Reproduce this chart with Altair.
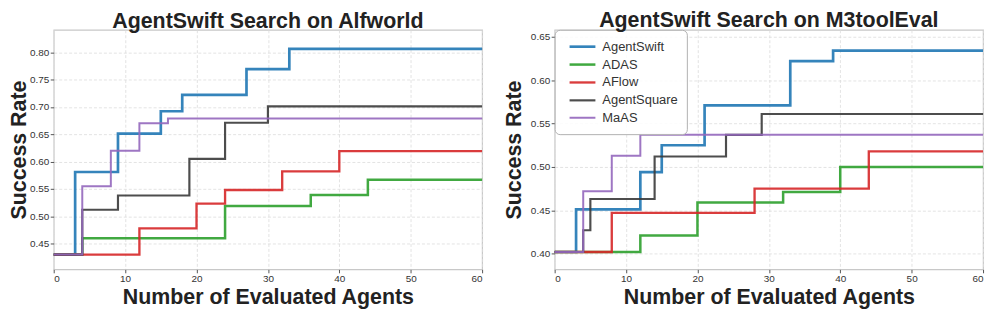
import altair as alt
import pandas as pd

methods = ["AgentSwift", "ADAS", "AFlow", "AgentSquare", "MaAS"]
colors = ["#1f77b4", "#2ca02c", "#d62728", "#3a3a3a", "#9467bd"]
widths = [2.7, 2.0, 2.0, 2.0, 2.0]

# Alfworld (step-after points; last point at x=60 holds the final value)
alf_agentswift_x = [0, 3, 9, 15, 18, 27, 33, 60]
alf_agentswift_y = [0.430, 0.581, 0.651, 0.692, 0.722, 0.769, 0.806, 0.806]
alf_adas_x = [0, 4, 24, 36, 44, 60]
alf_adas_y = [0.430, 0.460, 0.519, 0.539, 0.567, 0.567]
alf_aflow_x = [0, 12, 20, 24, 32, 40, 60]
alf_aflow_y = [0.430, 0.478, 0.523, 0.548, 0.582, 0.619, 0.619]
alf_agentsquare_x = [0, 4, 9, 19, 24, 30, 60]
alf_agentsquare_y = [0.430, 0.512, 0.538, 0.605, 0.671, 0.701, 0.701]
alf_maas_x = [0, 4, 8, 12, 16, 60]
alf_maas_y = [0.430, 0.555, 0.620, 0.670, 0.679, 0.679]

# M3toolEval
m3_agentswift_x = [0, 3, 12, 15, 21, 33, 39, 60]
m3_agentswift_y = [0.402, 0.451, 0.494, 0.525, 0.571, 0.622, 0.634, 0.634]
m3_adas_x = [0, 12, 20, 32, 40, 60]
m3_adas_y = [0.402, 0.421, 0.459, 0.471, 0.500, 0.500]
m3_aflow_x = [0, 8, 28, 44, 60]
m3_aflow_y = [0.402, 0.447, 0.475, 0.518, 0.518]
m3_agentsquare_x = [0, 4, 5, 14, 24, 29, 60]
m3_agentsquare_y = [0.402, 0.427, 0.463, 0.512, 0.537, 0.561, 0.561]
m3_maas_x = [0, 4, 8, 12, 60]
m3_maas_y = [0.402, 0.472, 0.513, 0.537, 0.537]

alf_ticks = [0.45, 0.50, 0.55, 0.60, 0.65, 0.70, 0.75, 0.80]
m3_ticks = [0.40, 0.45, 0.50, 0.55, 0.60, 0.65]
x_ticks = [0, 10, 20, 30, 40, 50, 60]


def build(series):
    rows = []
    for name, xs, ys in series:
        for xv, yv in zip(xs, ys):
            rows.append({"method": name, "series": name, "x": xv, "y": yv})
    return pd.DataFrame(rows)


alf_df = build([
    ("AgentSwift", alf_agentswift_x, alf_agentswift_y),
    ("ADAS", alf_adas_x, alf_adas_y),
    ("AFlow", alf_aflow_x, alf_aflow_y),
    ("AgentSquare", alf_agentsquare_x, alf_agentsquare_y),
    ("MaAS", alf_maas_x, alf_maas_y),
])
m3_df = build([
    ("AgentSwift", m3_agentswift_x, m3_agentswift_y),
    ("ADAS", m3_adas_x, m3_adas_y),
    ("AFlow", m3_aflow_x, m3_aflow_y),
    ("AgentSquare", m3_agentsquare_x, m3_agentsquare_y),
    ("MaAS", m3_maas_x, m3_maas_y),
])

FONT = "Liberation Sans"


def panel(df, title, ydomain, yticks, legend, title_pad):
    return alt.Chart(df).mark_line(interpolate="step-after", opacity=0.9).encode(
        x=alt.X("x:Q", scale=alt.Scale(domain=[0, 60], nice=False),
                axis=alt.Axis(values=x_ticks, format="d", title="Number of Evaluated Agents")),
        y=alt.Y("y:Q", scale=alt.Scale(domain=ydomain, nice=False, zero=False),
                axis=alt.Axis(values=yticks, format=".2f", title="Success Rate",
                              titlePadding=title_pad)),
        color=alt.Color("method:N", scale=alt.Scale(domain=methods, range=colors), legend=legend),
        strokeWidth=alt.StrokeWidth("series:N", scale=alt.Scale(domain=methods, range=widths), legend=None),
    ).properties(
        width=431, height=241,
        title=alt.TitleParams(title, fontSize=21.5, font=FONT, fontWeight="bold", color="#222", offset=-2.5),
    )


right_legend = alt.Legend(
    title=None, orient="none", legendX=0, legendY=0,
    symbolType="M-2,0H2", symbolSize=169, symbolStrokeWidth=2,
    symbolOffset=11, labelOffset=12,
    labelFont=FONT, labelFontSize=13, labelColor="#333",
    padding=9, rowPadding=3,
    strokeColor="#b0b0b0", fillColor="rgba(255,255,255,0.85)", cornerRadius=5,
)

left = panel(alf_df, "AgentSwift Search on Alfworld", [0.403, 0.841], alf_ticks, None, -1.5)
right = panel(m3_df, "AgentSwift Search on M3toolEval", [0.382, 0.658], m3_ticks, right_legend, 5)

chart = alt.hconcat(left, right, spacing=73, bounds="flush").resolve_scale(
    color="independent", strokeWidth="independent"
).resolve_legend(color="independent", strokeWidth="independent").configure(
    padding=0,
).configure_view(
    stroke="#c8c8c8", strokeWidth=1.2,
).configure_axis(
    labelFont=FONT, labelFontSize=10, labelColor="#333",
    titleFont=FONT, titleFontSize=21.5, titleFontWeight="bold", titleColor="#222",
    grid=True, gridColor="#dcdcdc", gridDash=[3, 2], gridWidth=0.8,
    domain=False, tickColor="#555", tickSize=3.5, tickWidth=1, labelPadding=1.5,
).configure_axisX(titlePadding=3, labelPadding=1)

chart.save("out.html", embed_options={"renderer": "svg", "actions": False})
